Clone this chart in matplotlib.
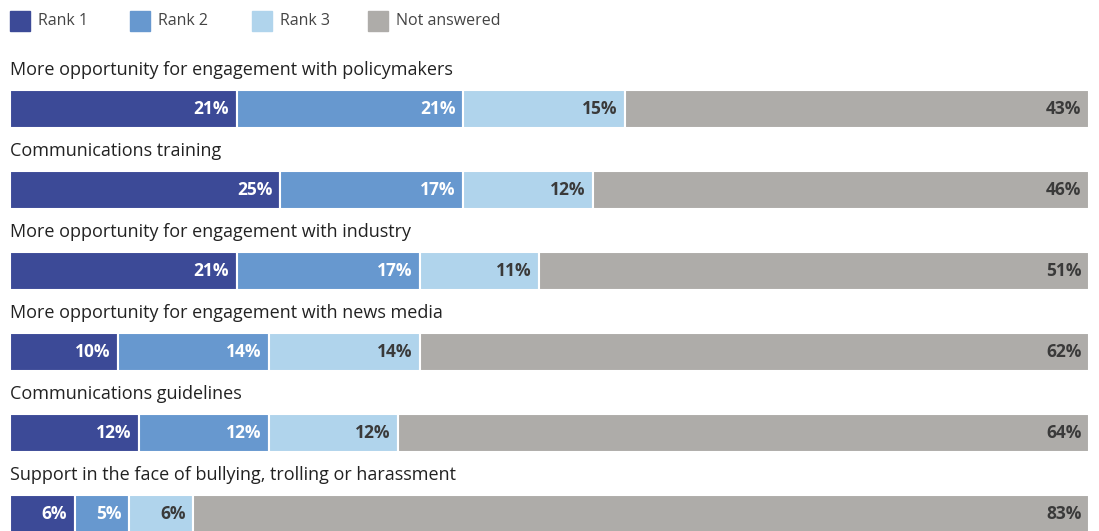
# stacked horizontal bars: ranking of support options
import matplotlib.pyplot as plt

categories = [
    "More opportunity for engagement with policymakers",
    "Communications training",
    "More opportunity for engagement with industry",
    "More opportunity for engagement with news media",
    "Communications guidelines",
    "Support in the face of bullying, trolling or harassment",
]
rank1 = [21, 25, 21, 10, 12, 6]
rank2 = [21, 17, 17, 14, 12, 5]
rank3 = [15, 12, 11, 14, 12, 6]
not_answered = [43, 46, 51, 62, 64, 83]

series_names = ["Rank 1", "Rank 2", "Rank 3", "Not answered"]
colors = ["#3c4a97", "#6798cf", "#b0d4ec", "#aeaca9"]
label_colors = ["white", "white", "#3a3a3a", "#3a3a3a"]

plt.rcParams['font.family'] = ['Open Sans', 'DejaVu Sans']

fig = plt.figure(figsize=(10.99, 5.31), dpi=100)
ax = fig.add_axes([10 / 1099, 0, 1079 / 1099, 1])
ax.set_xlim(0, 100)
ax.set_ylim(531, 0)
ax.axis('off')

series = [rank1, rank2, rank3, not_answered]
for i, cat in enumerate(categories):
    yc = 109 + i * 81
    left = 0
    for s, vals in enumerate(series):
        v = vals[i]
        ax.barh(yc, v, left=left, height=38, color=colors[s],
                edgecolor='white', linewidth=1.5)
        ax.text(left + v - 0.7, yc, f"{v}%", ha='right', va='center',
                fontsize=12.5, fontweight='bold', color=label_colors[s])
        left += v
    ax.text(0, yc - 39, cat, ha='left', va='center', fontsize=13,
            color='#222222')

# legend drawn in figure pixels
leg_x = [10, 130, 252, 368]
for x, name, c in zip(leg_x, series_names, colors):
    fig.patches.append(plt.Rectangle((x / 1099, 1 - 31 / 531), 20 / 1099,
                                     20 / 531, transform=fig.transFigure,
                                     color=c))
    fig.text((x + 28) / 1099, 1 - 21 / 531, name, ha='left', va='center',
             fontsize=11.5, color='#444444')

fig.savefig('out.png', dpi=100)
